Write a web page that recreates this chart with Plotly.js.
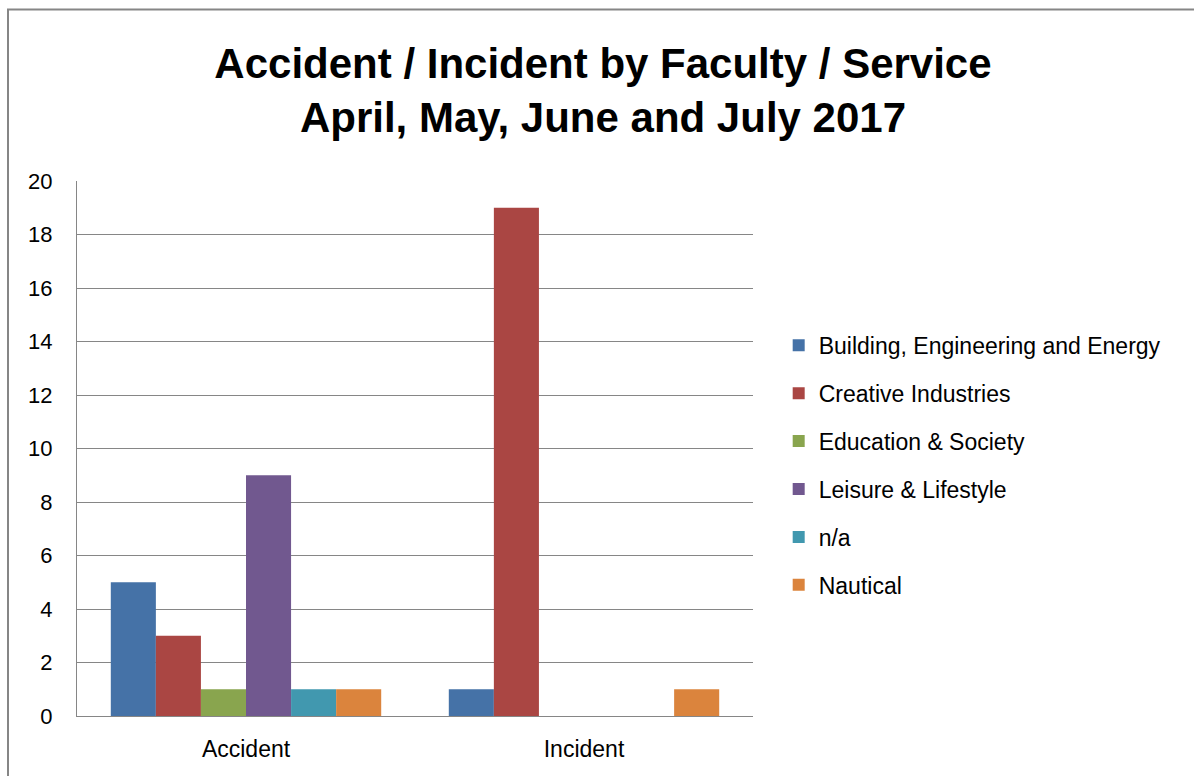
<!DOCTYPE html>
<html>
<head>
<meta charset="utf-8">
<script src="https://cdn.plot.ly/plotly-3.0.1.min.js"></script>
<style>html,body{margin:0;padding:0;background:#fff;}#chart{width:1194px;height:776px;}</style>
</head>
<body>
<div id="chart"></div>
<script>
const categories = ["Accident", "Incident"];
const seriesNames = ["Building, Engineering and Energy", "Creative Industries", "Education & Society", "Leisure & Lifestyle", "n/a", "Nautical"];
const buildingEngineeringEnergy = [5, 1];
const creativeIndustries = [3, 19];
const educationSociety = [1, 0];
const leisureLifestyle = [9, 0];
const notApplicable = [1, 0];
const nautical = [1, 1];
const seriesColors = ["#4572A7", "#AA4643", "#89A54E", "#71588F", "#4198AF", "#DB843D"];
const yTicks = [0, 2, 4, 6, 8, 10, 12, 14, 16, 18, 20];

const seriesValues = [buildingEngineeringEnergy, creativeIndustries, educationSociety, leisureLifestyle, notApplicable, nautical];
const font = "Liberation Sans, Arial, sans-serif";

const traces = seriesValues.map((vals, i) => ({
  type: "bar",
  name: seriesNames[i],
  x: categories,
  y: vals,
  legendgroup: "g" + i,
  marker: {color: seriesColors[i], line: {width: 0}},
  hoverinfo: "x+y+name"
}));

const layout = {
  width: 1194,
  height: 776,
  margin: {l: 77, r: 441, t: 181, b: 60},
  paper_bgcolor: "#ffffff",
  plot_bgcolor: "#ffffff",
  barmode: "group",
  bargap: 0.2,
  bargroupgap: 0,
  showlegend: true,
  title: {
    text: "Accident / Incident by Faculty / Service<br>April, May, June and July 2017",
    font: {family: font, size: 42, color: "#000000", weight: "bold"},
    x: 0.505, xanchor: "center",
    y: 0.9, yanchor: "top"
  },
  xaxis: {
    type: "category",
    tickfont: {family: font, size: 23, color: "#000000"},
    showgrid: false,
    showline: true,
    linecolor: "#868686",
    linewidth: 1,
    ticks: "",
    ticklabelstandoff: 12
  },
  yaxis: {
    range: [0, 20],
    tickvals: yTicks,
    tickfont: {family: font, size: 22, color: "#000000"},
    showgrid: true,
    gridcolor: "#868686",
    gridwidth: 1,
    zeroline: true,
    zerolinecolor: "#868686",
    zerolinewidth: 1,
    showline: true,
    linecolor: "#868686",
    linewidth: 1,
    ticks: "",
    ticklabelstandoff: 19
  },
  legend: {
    x: 1.038, xanchor: "left",
    y: 0.733, yanchor: "top",
    font: {family: font, size: 23, color: "#000000"},
    tracegroupgap: 15,
    itemwidth: 30,
    bgcolor: "rgba(0,0,0,0)"
  },
  shapes: [{
    type: "rect",
    xref: "paper", yref: "paper",
    x0: (8 - 77) / 676, x1: (1205 - 77) / 676,
    y0: (716 - 790) / 535, y1: (716 - 9.5) / 535,
    line: {color: "#868686", width: 2},
    fillcolor: "rgba(0,0,0,0)",
    layer: "below"
  }]
};

Plotly.newPlot("chart", traces, layout, {displayModeBar: false, staticPlot: true});
</script>
</body>
</html>
